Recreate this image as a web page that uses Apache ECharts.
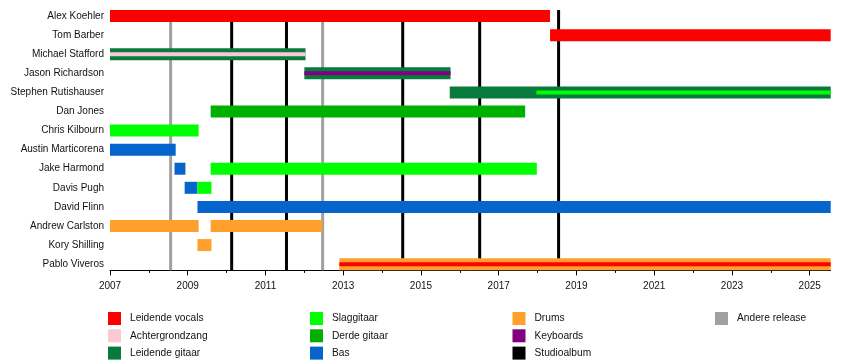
<!DOCTYPE html>
<html>
<head>
<meta charset="utf-8">
<script src="https://cdn.jsdelivr.net/npm/echarts@6/dist/echarts.min.js"></script>
<style>
html,body{margin:0;padding:0;background:#fff;}
#chart{width:850px;height:360px;}
</style>
</head>
<body>
<div id="chart"></div>
<script>
// ---------------- data ----------------
const members = ['Alex Koehler','Tom Barber','Michael Stafford','Jason Richardson','Stephen Rutishauser','Dan Jones','Chris Kilbourn','Austin Marticorena','Jake Harmond','Davis Pugh','David Flinn','Andrew Carlston','Kory Shilling','Pablo Viveros'];
const roleNames = ['Leidende vocals','Achtergrondzang','Leidende gitaar','Slaggitaar','Derde gitaar','Bas','Drums','Keyboards','Studioalbum','Andere release'];
const axisStart = 2007;
const axisEnd = 2025.54;
const tickYears = [2007,2009,2011,2013,2015,2017,2019,2021,2023,2025];
const minorTickYears = [2008,2010,2012,2014,2016,2018,2020,2022,2024];
// [member index, start, end, role index]
const tenures = [
  [0, 2007.0, 2018.32, 0],
  [1, 2018.32, 2025.54, 0],
  [2, 2007.0, 2012.03, 2],
  [3, 2012.0, 2015.76, 2],
  [4, 2015.74, 2025.54, 2],
  [5, 2009.59, 2017.68, 4],
  [6, 2007.0, 2009.28, 3],
  [7, 2007.0, 2008.69, 5],
  [8, 2008.66, 2008.94, 5],
  [8, 2009.59, 2017.98, 3],
  [9, 2008.92, 2009.25, 5],
  [9, 2009.25, 2009.61, 3],
  [10, 2009.25, 2025.54, 5],
  [11, 2007.0, 2009.28, 6],
  [11, 2009.59, 2012.46, 6],
  [12, 2009.25, 2009.61, 6],
  [13, 2012.90, 2025.54, 6]
];
// secondary roles drawn as a thin stripe: [member index, start, end, role index]
const secondaryRoles = [
  [2, 2007.0, 2012.03, 1],
  [3, 2012.0, 2015.76, 7],
  [4, 2017.97, 2025.54, 3],
  [13, 2012.90, 2025.54, 0]
];
const studioAlbums = [2010.13, 2011.54, 2014.53, 2016.51, 2018.54];
const otherReleases = [2008.56, 2012.47];

// ---------------- styles ----------------
const roleColors = ['#ff0000','#f9cad1','#077a3c','#00ff00','#00b000','#0665cc','#ffa02c','#800080','#000000','#a0a0a0'];
const FONT = 'Liberation Sans, Arial, sans-serif';
const BAR_H = 12;
const STRIPE_H = 4;

const chart = echarts.init(document.getElementById('chart'), null, {renderer: 'canvas'});

function rectItem(params, api, h, z) {
  const m = api.value(0);
  const p1 = api.coord([api.value(1), m]);
  const p2 = api.coord([api.value(2), m]);
  const role = api.value(3);
  return {
    type: 'rect',
    z2: z,
    shape: {x: p1[0], y: p1[1] - h / 2, width: p2[0] - p1[0], height: h},
    style: {fill: roleColors[role]}
  };
}

function lineItem(params, api) {
  const x = api.value(0);
  const kind = api.value(1);
  const top = api.coord([x, 0]);
  const bot = api.coord([x, members.length - 1]);
  return {
    type: 'line',
    shape: {x1: top[0], y1: top[1] - BAR_H / 2, x2: top[0], y2: bot[1] + BAR_H / 2},
    style: {stroke: roleColors[kind], lineWidth: 3}
  };
}

const lineData = studioAlbums.map(x => [x, 8]).concat(otherReleases.map(x => [x, 9]));

const legendColumns = [[0,1,2],[3,4,5],[6,7,8],[9]];
const legendLefts = [108, 310, 512.5, 715];

const series = [
  {
    type: 'custom', name: 'releases', renderItem: lineItem, data: lineData,
    encode: {x: 0}, z: 1, silent: true
  },
  {
    type: 'custom', name: 'tenures', renderItem: (p, a) => rectItem(p, a, BAR_H, 1),
    data: tenures, encode: {y: 0, x: [1, 2]}, z: 2, silent: true
  },
  {
    type: 'custom', name: 'secondary', renderItem: (p, a) => rectItem(p, a, STRIPE_H, 2),
    data: secondaryRoles, encode: {y: 0, x: [1, 2]}, z: 3, silent: true
  }
];
roleNames.forEach((n, i) => {
  series.push({type: 'bar', name: n, data: [], itemStyle: {color: roleColors[i]}});
});

const option = {
  animation: false,
  backgroundColor: '#ffffff',
  textStyle: {fontFamily: FONT},
  grid: {left: 110, right: 19.3, top: 6.5, bottom: 86.3, containLabel: false},
  xAxis: [
    {
      type: 'value', min: axisStart, max: axisEnd, interval: 2, position: 'bottom', offset: -3.3,
      axisLine: {show: true, lineStyle: {color: '#000', width: 1}},
      axisTick: {show: true, length: 5, lineStyle: {color: '#000'}, customValues: tickYears},
      axisLabel: {show: true, customValues: tickYears, fontSize: 10, color: '#111', fontFamily: FONT, margin: 11,
        formatter: v => String(v)},
      splitLine: {show: false}
    },
    {
      type: 'value', min: axisStart, max: axisEnd, interval: 2, position: 'bottom', offset: -3.3,
      axisLine: {show: false},
      axisTick: {show: true, length: 2.5, lineStyle: {color: '#000'}, customValues: minorTickYears},
      axisLabel: {show: false},
      splitLine: {show: false}
    }
  ],
  yAxis: {
    type: 'category', data: members, inverse: true,
    axisLine: {show: false}, axisTick: {show: false}, splitLine: {show: false},
    axisLabel: {fontSize: 10, color: '#111', fontFamily: FONT, margin: 6}
  },
  legend: legendColumns.map((col, i) => ({
    data: col.map(k => roleNames[k]),
    orient: 'vertical',
    left: legendLefts[i],
    top: 312,
    itemWidth: 13,
    itemHeight: 13,
    itemGap: 4.3,
    icon: 'rect',
    selectedMode: false,
    padding: 0,
    textStyle: {fontSize: 10.2, color: '#111', fontFamily: FONT, padding: [0, 0, 0, 4]}
  })),
  series: series
};
chart.setOption(option);
</script>
</body>
</html>
